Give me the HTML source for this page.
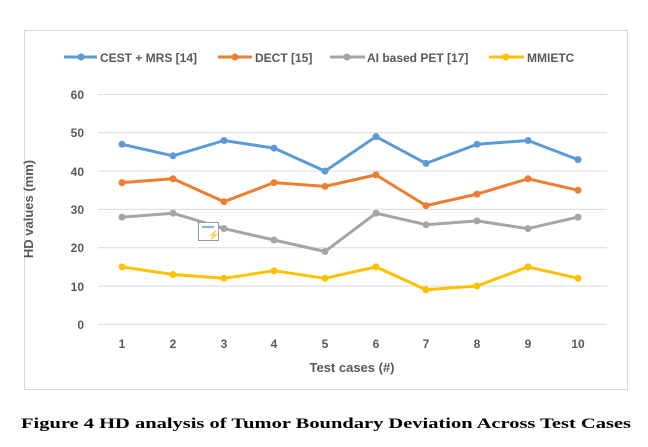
<!DOCTYPE html>
<html><head><meta charset="utf-8"><style>
body{margin:0;background:#fff;}
svg text{font-family:"Liberation Sans",sans-serif;}
</style></head><body>
<svg width="648" height="442" viewBox="0 0 648 442" xmlns="http://www.w3.org/2000/svg">
<rect x="24.5" y="30.5" width="603" height="359" fill="#fff" stroke="#d9d9d9"/>
<g stroke="#d9d9d9" stroke-width="1">
<line x1="98" x2="607" y1="94.5" y2="94.5"/><line x1="98" x2="607" y1="132.8" y2="132.8"/>
<line x1="98" x2="607" y1="171.1" y2="171.1"/><line x1="98" x2="607" y1="209.4" y2="209.4"/>
<line x1="98" x2="607" y1="247.7" y2="247.7"/><line x1="98" x2="607" y1="286" y2="286"/>
<line x1="98" x2="607" y1="324.3" y2="324.3"/>
</g>
<g font-size="12" font-weight="bold" fill="#595959" text-anchor="end">
<text x="84" y="99">60</text><text x="84" y="137">50</text><text x="84" y="176">40</text>
<text x="84" y="214">30</text><text x="84" y="252">20</text><text x="84" y="291">10</text><text x="84" y="329">0</text>
</g>
<g font-size="12" font-weight="bold" fill="#595959" text-anchor="middle">
<text x="122" y="348">1</text><text x="173" y="348">2</text><text x="224" y="348">3</text><text x="274" y="348">4</text><text x="325" y="348">5</text><text x="376" y="348">6</text><text x="426" y="348">7</text><text x="477" y="348">8</text><text x="528" y="348">9</text><text x="578" y="348">10</text>
<text x="352" y="372" font-size="13">Test cases (#)</text>
<text transform="translate(33,209) rotate(-90)" font-size="13">HD values (mm)</text>
</g>
<g fill="none" stroke-width="3" stroke-linejoin="round">
<polyline stroke="#5b9bd5" points="122,144.3 173,155.8 224,140.5 274,148.1 325,171.1 376,136.6 426,163.4 477,144.3 528,140.5 578,159.6"/>
<polyline stroke="#ed7d31" points="122,182.6 173,178.8 224,201.7 274,182.6 325,186.4 376,174.9 426,205.6 477,194.1 528,178.8 578,190.2"/>
<polyline stroke="#a5a5a5" points="122,217.1 173,213.2 224,228.6 274,240 325,251.5 376,213.2 426,224.7 477,220.9 528,228.6 578,217.1"/>
<polyline stroke="#ffc000" points="122,266.9 173,274.5 224,278.3 274,270.7 325,278.3 376,266.9 426,289.8 477,286 528,266.9 578,278.3"/>
</g>
<g fill="#5b9bd5"><circle cx="122" cy="144.3" r="3.5"/><circle cx="173" cy="155.8" r="3.5"/><circle cx="224" cy="140.5" r="3.5"/><circle cx="274" cy="148.1" r="3.5"/><circle cx="325" cy="171.1" r="3.5"/><circle cx="376" cy="136.6" r="3.5"/><circle cx="426" cy="163.4" r="3.5"/><circle cx="477" cy="144.3" r="3.5"/><circle cx="528" cy="140.5" r="3.5"/><circle cx="578" cy="159.6" r="3.5"/></g>
<g fill="#ed7d31"><circle cx="122" cy="182.6" r="3.5"/><circle cx="173" cy="178.8" r="3.5"/><circle cx="224" cy="201.7" r="3.5"/><circle cx="274" cy="182.6" r="3.5"/><circle cx="325" cy="186.4" r="3.5"/><circle cx="376" cy="174.9" r="3.5"/><circle cx="426" cy="205.6" r="3.5"/><circle cx="477" cy="194.1" r="3.5"/><circle cx="528" cy="178.8" r="3.5"/><circle cx="578" cy="190.2" r="3.5"/></g>
<g fill="#a5a5a5"><circle cx="122" cy="217.1" r="3.5"/><circle cx="173" cy="213.2" r="3.5"/><circle cx="224" cy="228.6" r="3.5"/><circle cx="274" cy="240" r="3.5"/><circle cx="325" cy="251.5" r="3.5"/><circle cx="376" cy="213.2" r="3.5"/><circle cx="426" cy="224.7" r="3.5"/><circle cx="477" cy="220.9" r="3.5"/><circle cx="528" cy="228.6" r="3.5"/><circle cx="578" cy="217.1" r="3.5"/></g>
<g fill="#ffc000"><circle cx="122" cy="266.9" r="3.5"/><circle cx="173" cy="274.5" r="3.5"/><circle cx="224" cy="278.3" r="3.5"/><circle cx="274" cy="270.7" r="3.5"/><circle cx="325" cy="278.3" r="3.5"/><circle cx="376" cy="266.9" r="3.5"/><circle cx="426" cy="289.8" r="3.5"/><circle cx="477" cy="286" r="3.5"/><circle cx="528" cy="266.9" r="3.5"/><circle cx="578" cy="278.3" r="3.5"/></g>
<rect x="198.5" y="222.5" width="20" height="18" fill="#fff" stroke="#999"/>
<line x1="202" y1="227" x2="214" y2="227" stroke="#5b9bd5" stroke-width="1.5"/>
<text x="208" y="238" font-size="9" fill="#f0a030">⚡</text>
<g stroke-width="3">
<line x1="64" x2="97" y1="57" y2="57" stroke="#5b9bd5"/><circle cx="81" cy="57" r="3.5" fill="#5b9bd5"/>
<line x1="218" x2="252" y1="57" y2="57" stroke="#ed7d31"/><circle cx="235" cy="57" r="3.5" fill="#ed7d31"/>
<line x1="330" x2="365" y1="57" y2="57" stroke="#a5a5a5"/><circle cx="347" cy="57" r="3.5" fill="#a5a5a5"/>
<line x1="489" x2="524" y1="57" y2="57" stroke="#ffc000"/><circle cx="506" cy="57" r="3.5" fill="#ffc000"/>
</g>
<g font-size="12" font-weight="bold" fill="#595959">
<text x="100" y="62">CEST + MRS [14]</text><text x="255" y="62">DECT [15]</text>
<text x="367" y="62">AI based PET [17]</text><text x="527" y="62">MMIETC</text>
</g>
<text x="21" y="428" font-family="Liberation Serif,serif" font-size="15" font-weight="bold" fill="#000" textLength="610" lengthAdjust="spacingAndGlyphs" style="font-family:'Liberation Serif',serif">Figure 4 HD analysis of Tumor Boundary Deviation Across Test Cases</text>
</svg>
</body></html>
